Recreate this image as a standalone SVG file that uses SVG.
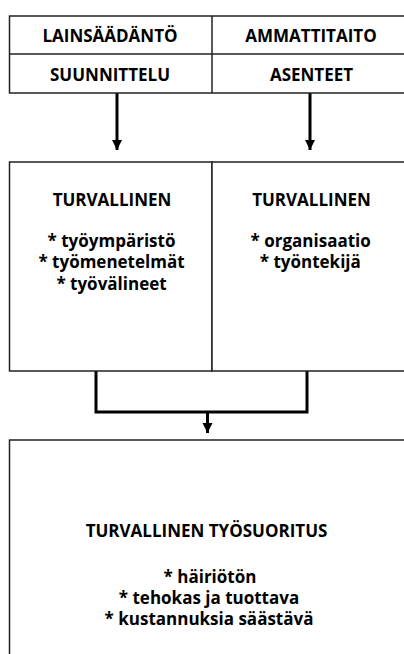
<svg xmlns="http://www.w3.org/2000/svg" width="404" height="654" viewBox="0 0 404 654">
<style>
.box{fill:#fff;stroke:#222;stroke-width:1.5}
.conn{fill:none;stroke:#000;stroke-width:3}
text{font-family:"Open Sans",Lato,"Liberation Sans",sans-serif;font-weight:bold;fill:#000;text-anchor:middle;font-size:17px}
</style>
<defs>
<marker id="ah" viewBox="0 0 10 10" refX="10" refY="5" markerWidth="3.4" markerHeight="3.4" markerUnits="strokeWidth" orient="auto">
<path d="M0,0 L10,5 L0,10 z" fill="#000"/>
</marker>
</defs>
<rect width="404" height="654" fill="#fff"/>
<g id="connectors">
<line class="conn" x1="117" y1="93" x2="117" y2="150" marker-end="url(#ah)"/>
<line class="conn" x1="310" y1="93" x2="310" y2="150" marker-end="url(#ah)"/>
<path class="conn" d="M96,371 V412 H307 V371"/>
<line class="conn" x1="207.5" y1="412" x2="207.5" y2="433" marker-end="url(#ah)"/>
</g>
<g id="top-box">
<rect class="box" x="9.5" y="16" width="402" height="77"/>
<line class="box" x1="9.5" y1="54" x2="411.5" y2="54"/>
<line class="box" x1="212" y1="16" x2="212" y2="93"/>
</g>
<g id="lainsaadanto"><text x="110" y="42.3">LAINSÄÄDÄNTÖ</text></g>
<g id="ammattitaito"><text x="311" y="42.3">AMMATTITAITO</text></g>
<g id="suunnittelu"><text x="110" y="80.7">SUUNNITTELU</text></g>
<g id="asenteet"><text x="311.5" y="80.7">ASENTEET</text></g>
<g id="turvallinen-left">
<rect class="box" x="9.5" y="162" width="202.5" height="209"/>
<text x="112" y="206">TURVALLINEN</text>
<text x="111.5" y="246.7">* työympäristö</text>
<text x="111.5" y="268.3">* työmenetelmät</text>
<text x="111.5" y="290">* työvälineet</text>
</g>
<g id="turvallinen-right">
<rect class="box" x="212" y="162" width="199.5" height="209"/>
<text x="311.5" y="206">TURVALLINEN</text>
<text x="310.7" y="246.7">* organisaatio</text>
<text x="310.3" y="268.3">* työntekijä</text>
</g>
<g id="tyosuoritus">
<rect class="box" x="9.5" y="440" width="402" height="230"/>
<text x="206.5" y="536.5">TURVALLINEN TYÖSUORITUS</text>
<text x="210" y="583.3">* häiriötön</text>
<text x="209" y="604.3">* tehokas ja tuottava</text>
<text x="209" y="625.3">* kustannuksia säästävä</text>
</g>
</svg>
